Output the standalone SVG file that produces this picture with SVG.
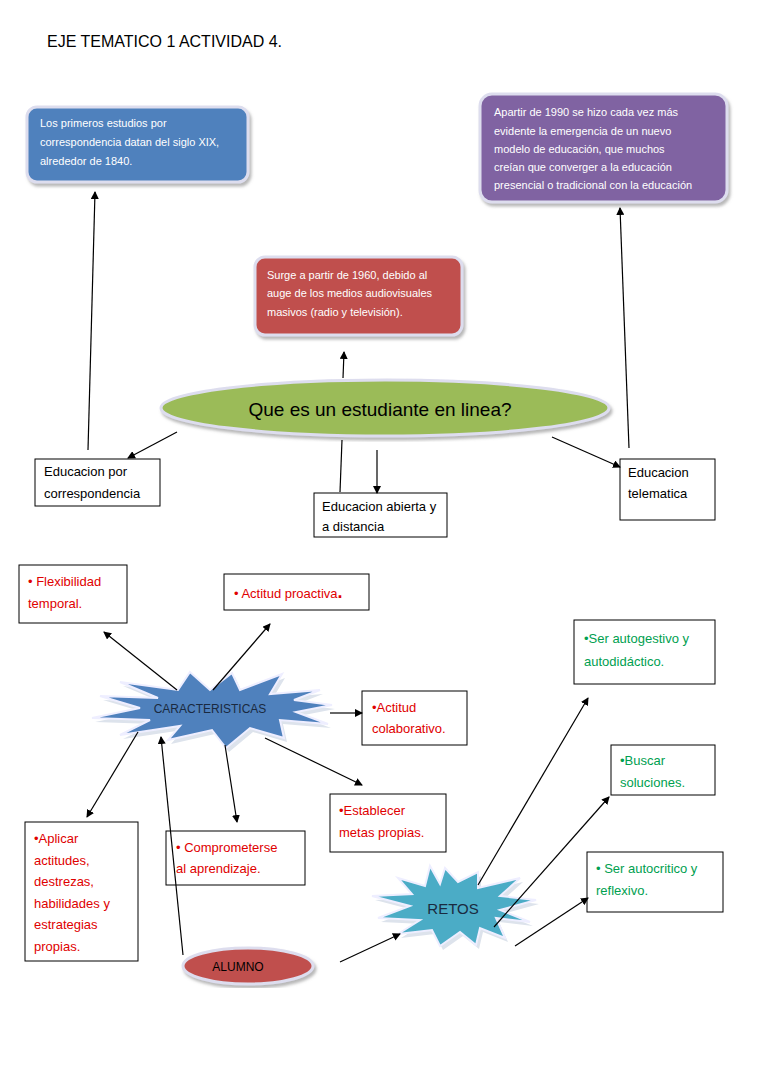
<svg xmlns="http://www.w3.org/2000/svg" width="768" height="1087" viewBox="0 0 768 1087">
<defs>
<marker id="a" markerWidth="8" markerHeight="8" refX="7" refY="4" orient="auto" markerUnits="userSpaceOnUse"><path d="M0,0 L8,4 L0,8 z" fill="#000"/></marker>
<filter id="sh"><feDropShadow dx="2" dy="3" stdDeviation="1.5" flood-color="#888" flood-opacity="0.6"/></filter>
</defs>
<style>
text{font-family:"Liberation Sans",Calibri,Arial,sans-serif;}
.w{fill:#fff;font-size:11px}
.b{fill:#000;font-size:13px}
.r{fill:#e00000;font-size:13px}
.g{fill:#00a050;font-size:13px}
.bx{fill:#fff;stroke:#000;stroke-width:1}
.c line,.c path{stroke:#000;stroke-width:1.2;fill:none}
</style>
<rect width="768" height="1087" fill="#fff"/>
<text x="47" y="47" font-size="16" fill="#000">EJE TEMATICO  1 ACTIVIDAD  4.</text>

<g id="n1"><rect x="27" y="107" width="221" height="75" rx="10" fill="#4f81bd" stroke="#dde" stroke-width="3" filter="url(#sh)"/>
<text class="w"><tspan x="40" y="127">Los primeros estudios por</tspan><tspan x="40" y="146">correspondencia datan del siglo XIX,</tspan><tspan x="40" y="165">alrededor de 1840.</tspan></text></g>
<g id="n2"><rect x="480" y="94" width="247" height="108" rx="12" fill="#8064a2" stroke="#dde" stroke-width="3" filter="url(#sh)"/>
<text class="w"><tspan x="494" y="116">Apartir de 1990 se hizo cada vez más</tspan><tspan x="494" y="135">evidente la emergencia  de un nuevo</tspan><tspan x="494" y="153">modelo de educación, que muchos</tspan><tspan x="494" y="171">creían que converger  a la educación</tspan><tspan x="494" y="189">presencial o tradicional con la educación</tspan></text></g>
<g id="n3"><rect x="255" y="257" width="207" height="78" rx="10" fill="#c0504d" stroke="#dde" stroke-width="3" filter="url(#sh)"/>
<text class="w"><tspan x="267" y="279">Surge a partir de 1960, debido al</tspan><tspan x="267" y="297">auge de los medios audiovisuales</tspan><tspan x="267" y="316">masivos (radio y televisión).</tspan></text></g>
<g id="n4"><ellipse cx="385" cy="408" rx="224" ry="28" fill="#9bbb59" stroke="#dde" stroke-width="3" filter="url(#sh)"/>
<text x="380" y="416" font-size="19" fill="#000" text-anchor="middle">Que es un estudiante en linea?</text></g>

<g id="n5"><rect class="bx" x="35" y="459" width="125" height="47"/><text class="b"><tspan x="44" y="476">Educacion por</tspan><tspan x="44" y="498">correspondencia</tspan></text></g>
<g id="n6"><rect class="bx" x="314" y="493" width="133" height="44"/><text class="b"><tspan x="322" y="511">Educacion abierta y</tspan><tspan x="322" y="531">a distancia</tspan></text></g>
<g id="n7"><rect class="bx" x="620" y="459" width="95" height="61"/><text class="b"><tspan x="628" y="477">Educacion</tspan><tspan x="628" y="498">telematica</tspan></text></g>

<g id="n8"><rect class="bx" x="19" y="565" width="108" height="58"/><text class="r"><tspan x="28" y="586">• Flexibilidad</tspan><tspan x="28" y="608">temporal.</tspan></text></g>
<g id="n9"><rect class="bx" x="224" y="574" width="145" height="36"/><text class="r"><tspan x="234" y="598">• Actitud proactiva</tspan><tspan font-size="18" font-weight="bold">.</tspan></text></g>
<g id="n10"><rect class="bx" x="574" y="620" width="141" height="64"/><text class="g"><tspan x="584" y="643">•Ser autogestivo y</tspan><tspan x="584" y="666">autodidáctico.</tspan></text></g>
<g id="n11"><rect class="bx" x="362" y="691" width="105" height="54"/><text class="r"><tspan x="372" y="712">•Actitud</tspan><tspan x="372" y="733">colaborativo.</tspan></text></g>
<g id="n12"><rect class="bx" x="611" y="745" width="104" height="50"/><text class="g"><tspan x="620" y="765">•Buscar</tspan><tspan x="620" y="787">soluciones.</tspan></text></g>
<g id="n13"><rect class="bx" x="330" y="794" width="116" height="58"/><text class="r"><tspan x="339" y="815">•Establecer</tspan><tspan x="339" y="837">metas propias.</tspan></text></g>
<g id="n14"><rect class="bx" x="25" y="822" width="113" height="139"/><text class="r"><tspan x="34" y="843">•Aplicar</tspan><tspan x="34" y="865">actitudes,</tspan><tspan x="34" y="886">destrezas,</tspan><tspan x="34" y="908">habilidades y</tspan><tspan x="34" y="929">estrategias</tspan><tspan x="34" y="951">propias.</tspan></text></g>
<g id="n15"><rect class="bx" x="166" y="831" width="139" height="54"/><text class="r"><tspan x="176" y="852">• Comprometerse</tspan><tspan x="176" y="873">al aprendizaje.</tspan></text></g>
<g id="n16"><rect class="bx" x="587" y="852" width="136" height="60"/><text class="g"><tspan x="596" y="873">• Ser autocritico  y</tspan><tspan x="596" y="895">reflexivo.</tspan></text></g>

<g id="n17"><polygon points="210,690 232,673 240,690 282,674 270,694 320,690 294,700 332,705 296,712 328,724 280,720 284,738 250,728 226,748 212,730 168,740 180,726 120,735 150,720 92,718 140,708 100,696 158,698 120,682 178,690 190,672" fill="#dde3ec" transform="translate(3,4)"/>
<polygon points="210,690 232,673 240,690 282,674 270,694 320,690 294,700 332,705 296,712 328,724 280,720 284,738 250,728 226,748 212,730 168,740 180,726 120,735 150,720 92,718 140,708 100,696 158,698 120,682 178,690 190,672" fill="#4f81bd" stroke="#eef" stroke-width="2"/>
<text x="210" y="713" font-size="12" fill="#1a2a40" text-anchor="middle">CARACTERISTICAS</text></g>
<g id="n18"><polygon points="440,884 445,868 458,882 478,872 478,888 520,878 500,896 536,900 500,910 530,922 496,918 505,938 480,928 476,945 460,932 440,946 432,930 398,934 420,920 378,918 410,906 372,896 412,894 398,878 425,886 430,866" fill="#dde3ec" transform="translate(3,4)"/>
<polygon points="440,884 445,868 458,882 478,872 478,888 520,878 500,896 536,900 500,910 530,922 496,918 505,938 480,928 476,945 460,932 440,946 432,930 398,934 420,920 378,918 410,906 372,896 412,894 398,878 425,886 430,866" fill="#4bacc6" stroke="#eef" stroke-width="2"/>
<text x="453" y="914" font-size="15" fill="#1a2a40" text-anchor="middle">RETOS</text></g>
<g id="n19"><ellipse cx="248" cy="966" rx="65" ry="18" fill="#c0504d" stroke="#dde" stroke-width="3" filter="url(#sh)"/><text x="238" y="971" font-size="12" fill="#000" text-anchor="middle">ALUMNO</text></g>

<g class="c" id="connectors">
<line x1="88" y1="450" x2="95" y2="192" marker-end="url(#a)"/>
<line x1="177" y1="432" x2="128" y2="458" marker-end="url(#a)"/>
<line x1="343" y1="378" x2="344" y2="352" marker-end="url(#a)"/>
<line x1="342" y1="440" x2="340" y2="492"/>
<line x1="377" y1="450" x2="377" y2="493" marker-end="url(#a)"/>
<line x1="552" y1="437" x2="620" y2="467" marker-end="url(#a)"/>
<line x1="629" y1="448" x2="620" y2="208" marker-end="url(#a)"/>
<line x1="177" y1="690" x2="104" y2="632" marker-end="url(#a)"/>
<line x1="213" y1="690" x2="270" y2="624" marker-end="url(#a)"/>
<line x1="330" y1="713" x2="362" y2="713" marker-end="url(#a)"/>
<line x1="265" y1="738" x2="362" y2="785" marker-end="url(#a)"/>
<line x1="225" y1="745" x2="237" y2="822" marker-end="url(#a)"/>
<line x1="138" y1="732" x2="87" y2="817" marker-end="url(#a)"/>
<line x1="183" y1="955" x2="161" y2="737" marker-end="url(#a)"/>
<line x1="340" y1="962" x2="400" y2="934" marker-end="url(#a)"/>
<line x1="478" y1="885" x2="588" y2="698" marker-end="url(#a)"/>
<line x1="494" y1="927" x2="609" y2="797" marker-end="url(#a)"/>
<line x1="515" y1="946" x2="588" y2="898" marker-end="url(#a)"/>
</g>
</svg>
